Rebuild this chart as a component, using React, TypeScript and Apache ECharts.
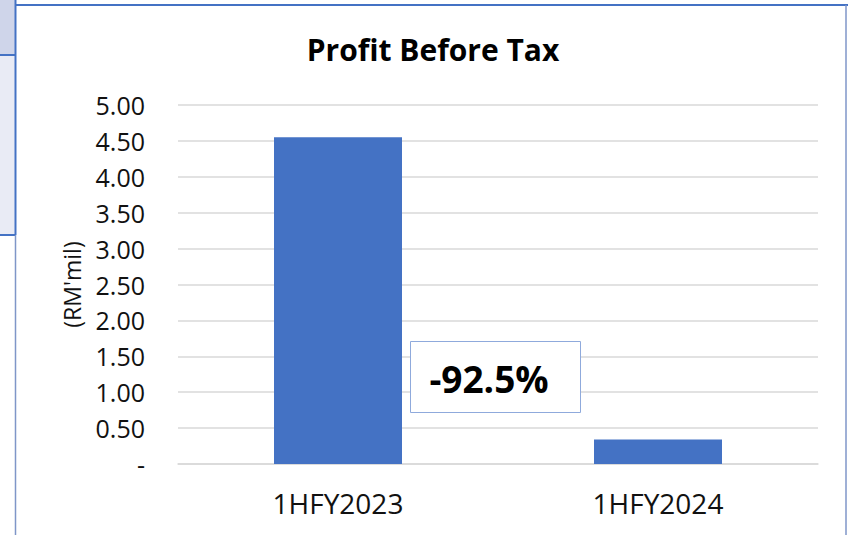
import React, { useEffect, useRef } from "react";
import * as echarts from "echarts";

const categories = ["1HFY2023", "1HFY2024"];
const profitValues = [4.55, 0.34];
const changeLabel = "-92.5%";
const chartTitle = "Profit Before Tax";
const yAxisName = "(RM'mil)";

const FONT = "'Open Sans', 'Noto Sans', sans-serif";

export default function App() {
  const ref = useRef<HTMLDivElement>(null);
  useEffect(() => {
    document.body.style.margin = "0";
    const chart = echarts.init(ref.current!, null, { renderer: "svg" });
    chart.setOption({
      animation: false,
      backgroundColor: "#ffffff",
      title: {
        text: chartTitle,
        left: 428,
        top: 29,
        textAlign: "center",
        textStyle: { fontFamily: FONT, fontSize: 30, fontWeight: "bold", color: "#000" },
      },
      grid: { left: 178, right: 30, top: 105, bottom: 71 },
      xAxis: {
        type: "category",
        data: categories,
        axisLine: { lineStyle: { color: "#d9d9d9", width: 1.5 } },
        axisTick: { show: false },
        axisLabel: { fontFamily: FONT, fontSize: 28, color: "#111", margin: 25 },
      },
      yAxis: {
        type: "value",
        min: 0,
        max: 5,
        interval: 0.5,
        name: yAxisName,
        nameLocation: "middle",
        nameRotate: 90,
        nameGap: 95,
        nameTextStyle: { fontFamily: FONT, fontSize: 23, color: "#111" },
        axisLine: { show: false },
        axisTick: { show: false },
        splitLine: { lineStyle: { color: "#d9d9d9", width: 1.5 } },
        axisLabel: {
          fontFamily: FONT,
          fontSize: 25,
          color: "#111",
          margin: 33,
          formatter: (v: number) => (v === 0 ? "-" : v.toFixed(2)),
        },
      },
      series: [
        {
          type: "bar",
          data: profitValues,
          barWidth: "40%",
          itemStyle: { color: "#4472c4" },
        },
      ],
      graphic: [
        { type: "rect", shape: { x: 0, y: 0, width: 15, height: 55 }, style: { fill: "#cfd5ea" } },
        { type: "rect", shape: { x: 0, y: 55, width: 15, height: 180 }, style: { fill: "#e9ebf5" } },
        { type: "line", shape: { x1: 0, y1: 55, x2: 15, y2: 55 }, style: { stroke: "#4472c4", lineWidth: 2 } },
        { type: "line", shape: { x1: 0, y1: 235, x2: 15, y2: 235 }, style: { stroke: "#4472c4", lineWidth: 2 } },
        { type: "line", shape: { x1: 15.5, y1: 0, x2: 15.5, y2: 235 }, style: { stroke: "#4472c4", lineWidth: 2 } },
        { type: "line", shape: { x1: 15.5, y1: 235, x2: 15.5, y2: 535 }, style: { stroke: "#7f96c8", lineWidth: 1.5 } },
        { type: "line", shape: { x1: 15, y1: 5, x2: 848, y2: 5 }, style: { stroke: "#4472c4", lineWidth: 2 } },
        { type: "line", shape: { x1: 846, y1: 5, x2: 846, y2: 535 }, style: { stroke: "#7f96c8", lineWidth: 1.5 } },
        {
          type: "rect",
          shape: { x: 410.5, y: 341.5, width: 170, height: 71 },
          style: { fill: "#ffffff", stroke: "#8faadc", lineWidth: 1 },
          z: 10,
        },
        {
          type: "text",
          x: 489,
          y: 378,
          style: {
            text: changeLabel,
            fontFamily: FONT,
            fontSize: 37,
            fontWeight: "bold",
            fill: "#000",
            align: "center",
            verticalAlign: "middle",
          },
          z: 11,
        },
      ],
    });
    return () => chart.dispose();
  }, []);
  return (
    <div
      ref={ref}
      style={{ position: "fixed", left: 0, top: 0, width: 848, height: 535 }}
    />
  );
}
